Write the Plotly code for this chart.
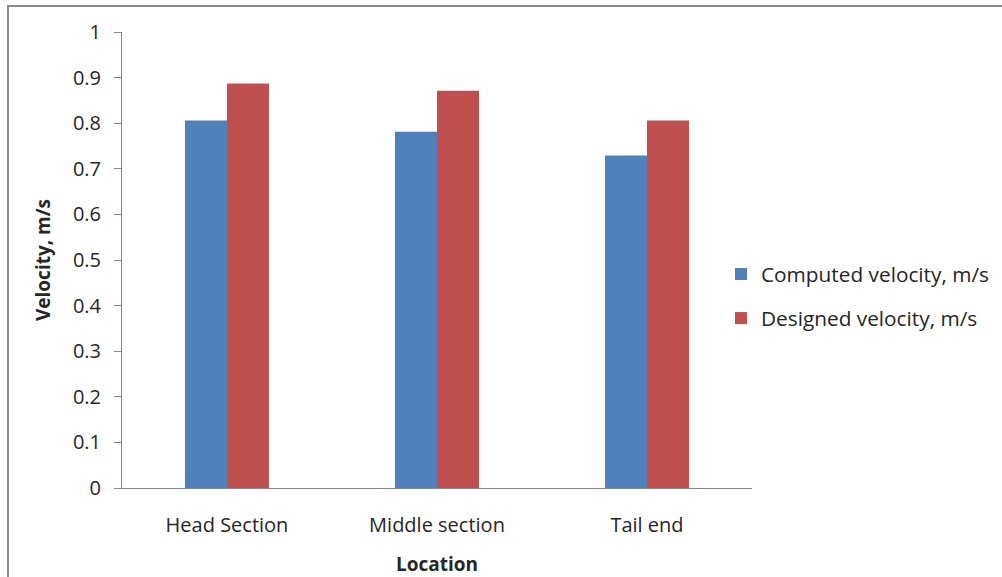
import plotly.graph_objects as go

# Flow velocity at three locations along the canal
locations = ["Head Section", "Middle section", "Tail end"]
computed_velocity = [0.806, 0.781, 0.729]
designed_velocity = [0.887, 0.871, 0.806]
y_ticks = [0, 0.1, 0.2, 0.3, 0.4, 0.5, 0.6, 0.7, 0.8, 0.9, 1]
y_tick_text = ["0", "0.1", "0.2", "0.3", "0.4", "0.5", "0.6", "0.7", "0.8", "0.9", "1"]

FONT = "'Open Sans', Lato, sans-serif"
W, H = 1002, 577
L, R, T, B = 122, 250, 32, 89
pw, ph = W - L - R, H - T - B

def px_x(p):
    return (p - L) / pw

def px_y(p):
    return (H - B - p) / ph

fig = go.Figure()
fig.add_trace(go.Bar(x=locations, y=computed_velocity, name="Computed velocity, m/s",
                     legendgroup="computed",
                     marker=dict(color="#4F81BD", line=dict(width=0))))
fig.add_trace(go.Bar(x=locations, y=designed_velocity, name="Designed velocity, m/s",
                     legendgroup="designed",
                     marker=dict(color="#C0504D", line=dict(width=0))))

fig.update_layout(
    width=W, height=H,
    margin=dict(l=L, r=R, t=T, b=B, autoexpand=False),
    paper_bgcolor="white", plot_bgcolor="white",
    barmode="group", bargap=0.6, bargroupgap=0,
    font=dict(family=FONT, size=20, color="#262626"),
    showlegend=True,
    legend=dict(x=px_x(721), y=px_y(254), xanchor="left", yanchor="top",
                font=dict(family=FONT, size=20.8, color="#262626"),
                tracegroupgap=14, itemwidth=30, bgcolor="rgba(0,0,0,0)"),
    xaxis=dict(showline=True, linecolor="#868686", linewidth=1,
               ticks="", tickfont=dict(size=20), showgrid=False,
               ticklabelstandoff=19,
               title=dict(text="<b>Location</b>", font=dict(size=19), standoff=24)),
    yaxis=dict(range=[0, 1], tickvals=y_ticks, ticktext=y_tick_text,
               showline=True, linecolor="#868686", linewidth=1,
               ticks="outside", ticklen=7, tickcolor="#868686",
               tickfont=dict(size=20), showgrid=False, zeroline=False,
               ticklabelstandoff=9,
               title=dict(text="<b>Velocity, m/s</b>", font=dict(size=19), standoff=17)),
    shapes=[dict(type="rect", xref="paper", yref="paper",
                 x0=px_x(8), x1=px_x(1010), y0=px_y(590), y1=px_y(6),
                 line=dict(color="#8c8c8c", width=2), layer="below")],
)

fig.write_html("out.html")
